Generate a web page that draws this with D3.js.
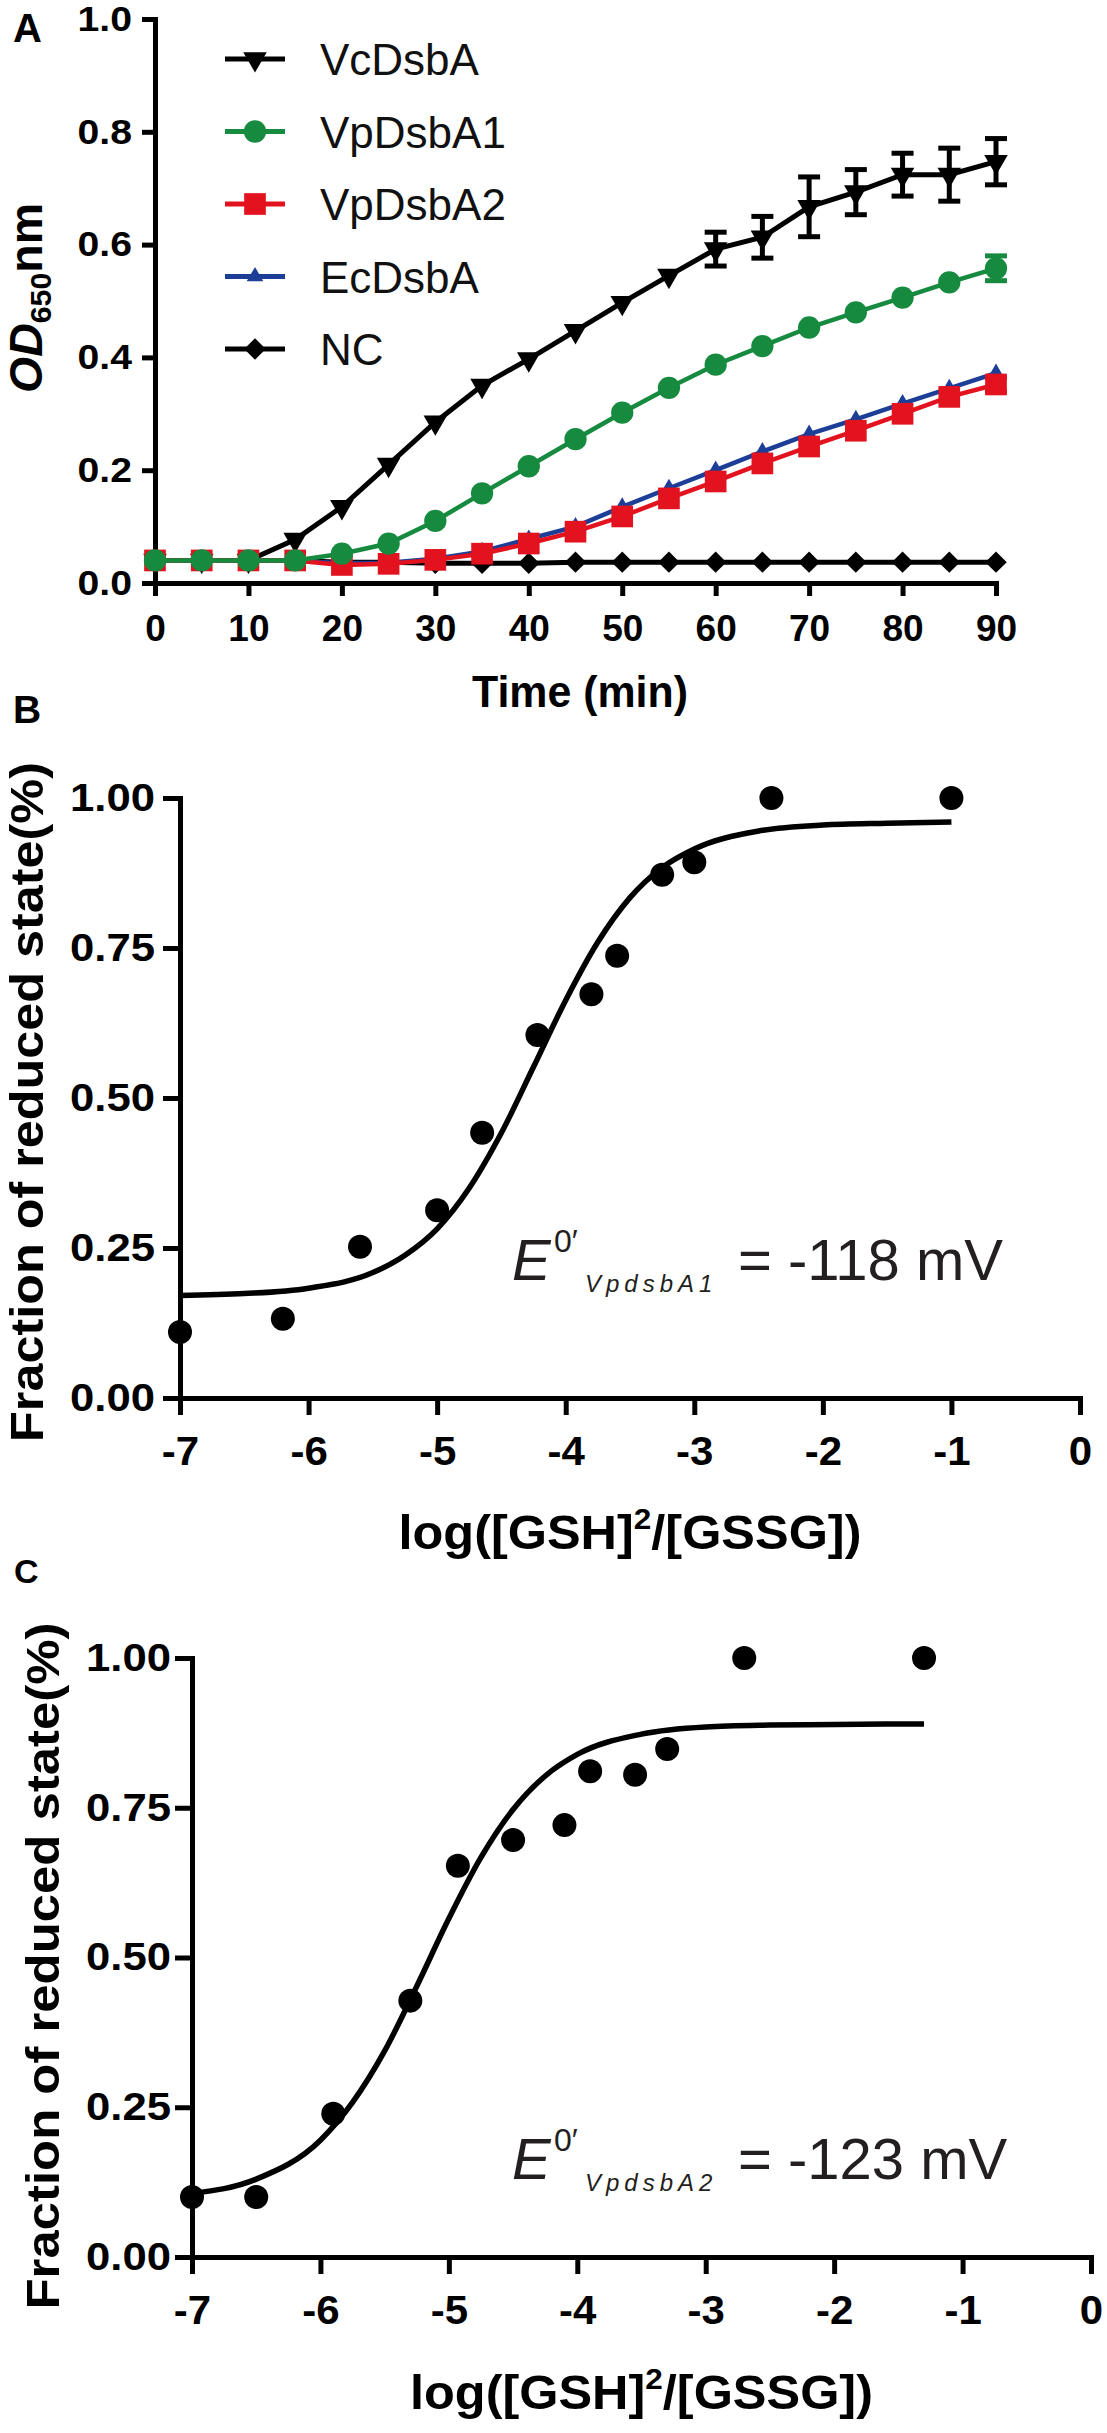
<!DOCTYPE html>
<html><head><meta charset="utf-8">
<script src="https://cdn.jsdelivr.net/npm/d3@7"></script>
<style>html,body{margin:0;padding:0;background:#fff}svg{display:block}</style>
</head><body>
<svg id="c" width="1107" height="2433"></svg>
<script>
// ---------- Panel A data ----------
const timePoints = [0,5,10,15,20,25,30,35,40,45,50,55,60,65,70,75,80,85,90];
const vcDsbA    = [0.04,0.04,0.04,0.077,0.135,0.21,0.285,0.35,0.397,0.447,0.497,0.545,0.592,0.613,0.667,0.693,0.724,0.724,0.747];
const vcDsbAErr = [0,0,0,0,0,0,0,0,0,0,0,0,0.03,0.037,0.053,0.04,0.038,0.047,0.041];
const vpDsbA1    = [0.04,0.04,0.04,0.04,0.052,0.07,0.11,0.159,0.207,0.255,0.302,0.346,0.387,0.42,0.453,0.48,0.506,0.533,0.558];
const vpDsbA1Err = [0,0,0,0,0,0,0,0,0,0,0,0,0,0,0,0,0,0,0.022];
const vpDsbA2    = [0.04,0.04,0.04,0.04,0.032,0.034,0.041,0.052,0.07,0.091,0.118,0.15,0.18,0.212,0.242,0.27,0.30,0.33,0.352];
const vpDsbA2Err = [0,0,0,0,0,0,0,0,0,0,0,0,0,0,0,0,0,0,0.012];
const ecDsbA    = [0.04,0.04,0.04,0.04,0.035,0.036,0.043,0.056,0.078,0.10,0.135,0.168,0.20,0.233,0.264,0.29,0.318,0.345,0.372];
const ncValues  = [0.04,0.04,0.04,0.04,0.037,0.037,0.035,0.035,0.035,0.037,0.037,0.037,0.037,0.037,0.037,0.037,0.037,0.037,0.037];
const seriesNames = ["VcDsbA","VpDsbA1","VpDsbA2","EcDsbA","NC"];
const yTicksA = [0,0.2,0.4,0.6,0.8,1.0];
const xTicksA = [0,10,20,30,40,50,60,70,80,90];

// ---------- Panel B data ----------
const logRatioB = [-7,-6.2,-5.6,-5.0,-4.65,-4.22,-3.8,-3.6,-3.25,-3.0,-2.4,-1.0];
const fracB     = [0.11,0.132,0.252,0.313,0.442,0.605,0.673,0.737,0.872,0.893,1.0,1.0];
const fitXB = [-7,-6.5,-6,-5.5,-5.25,-5,-4.75,-4.5,-4.25,-4,-3.75,-3.5,-3.25,-3,-2.5,-2,-1.5,-1];
const fitYB = [0.171,0.174,0.183,0.209,0.238,0.282,0.35,0.442,0.552,0.663,0.76,0.834,0.884,0.915,0.945,0.955,0.958,0.96];

// ---------- Panel C data ----------
const logRatioC = [-7,-6.5,-5.9,-5.3,-4.93,-4.5,-4.1,-3.9,-3.55,-3.3,-2.7,-1.3];
const fracC     = [0.10,0.10,0.239,0.428,0.653,0.696,0.721,0.811,0.805,0.848,1.0,1.0];
const fitXC = [-7,-6.5,-6,-5.75,-5.5,-5.25,-5,-4.75,-4.5,-4.25,-4,-3.5,-3,-2.5,-2,-1.3];
const fitYC = [0.106,0.130,0.195,0.258,0.344,0.452,0.565,0.667,0.747,0.803,0.839,0.873,0.885,0.888,0.889,0.89];

const yTicksBC = [0,0.25,0.5,0.75,1.0];
const xTicksBC = [-7,-6,-5,-4,-3,-2,-1,0];

// ---------- drawing ----------
const FONT = '"Liberation Sans", Arial, Helvetica, sans-serif';
const svg = d3.select("#c");

function styleAxis(g, fs, sx){
  g.attr("font-family", FONT).attr("font-size", fs).attr("font-weight", "bold");
  g.select(".domain").attr("stroke","#000").attr("stroke-width",5).attr("stroke-linecap","square");
  g.selectAll(".tick line").attr("stroke","#000").attr("stroke-width",5);
  g.selectAll(".tick text").attr("fill","#000").attr("transform", function(){
    const x = +(this.getAttribute("x") || 0);
    return `translate(${x},0) scale(${sx},1) translate(${-x},0)`;
  });
}
function fittedText(x, y, rot, target, build){
  const t = svg.append("text").attr("font-family", FONT).attr("fill", "#000");
  build(t);
  const w = t.node().getComputedTextLength();
  t.attr("text-anchor","middle").attr("transform", `translate(${x},${y}) rotate(${rot}) scale(${target / w},1)`);
  return t;
}
function panelLabel(txt, x, y, fs){
  svg.append("text").attr("x",x).attr("y",y).attr("font-family",FONT).attr("font-weight","bold")
    .attr("font-size",fs).attr("fill","#000").text(txt);
}

// ===== Panel A =====
const xA = d3.scaleLinear().domain([0,90]).range([155,996]);
const yA = d3.scaleLinear().domain([0,1]).range([583,19]);

svg.append("g").attr("transform","translate(155,0)")
  .call(d3.axisLeft(yA).tickValues(yTicksA).tickFormat(d3.format(".1f")).tickSize(13).tickSizeOuter(0).tickPadding(10))
  .call(g => styleAxis(g, 35, 1.12));
svg.append("g").attr("transform","translate(0,583)")
  .call(d3.axisBottom(xA).tickValues(xTicksA).tickFormat(d => String(d)).tickSize(13).tickSizeOuter(0).tickPadding(19))
  .call(g => styleAxis(g, 37, 1.0));

const triDown = d3.symbol().type(d3.symbolTriangle).size(240)();
const triUp   = d3.symbol().type(d3.symbolTriangle).size(120)();
const circ    = d3.symbol().type(d3.symbolCircle).size(390)();
const sq      = d3.symbol().type(d3.symbolSquare).size(470)();
const diam    = d3.symbol().type(d3.symbolSquare).size(230)();

const seriesA = [
  {name:seriesNames[4], vals:ncValues, err:null, color:"#000", path:diam, rot:45, lw:5},
  {name:seriesNames[0], vals:vcDsbA, err:vcDsbAErr, color:"#000", path:triDown, rot:180, lw:5},
  {name:seriesNames[3], vals:ecDsbA, err:null, color:"#1d3e97", path:triUp, rot:0, lw:4.5},
  {name:seriesNames[2], vals:vpDsbA2, err:vpDsbA2Err, color:"#e3121f", path:sq, rot:0, lw:4.5},
  {name:seriesNames[1], vals:vpDsbA1, err:vpDsbA1Err, color:"#168a3f", path:circ, rot:0, lw:4.5}
];
const lineA = d3.line().x((d,i) => xA(timePoints[i])).y(d => yA(d));

seriesA.forEach(s => {
  const g = svg.append("g");
  g.append("path").attr("d", lineA(s.vals)).attr("fill","none").attr("stroke",s.color).attr("stroke-width",s.lw);
  if (s.err) {
    s.vals.forEach((v,i) => {
      const e = s.err[i]; if (!e) return;
      const x = xA(timePoints[i]);
      g.append("line").attr("x1",x).attr("x2",x).attr("y1",yA(v-e)).attr("y2",yA(v+e)).attr("stroke",s.color).attr("stroke-width",5);
      [v-e, v+e].forEach(c => g.append("line").attr("x1",x-11).attr("x2",x+11).attr("y1",yA(c)).attr("y2",yA(c)).attr("stroke",s.color).attr("stroke-width",5));
    });
  }
  g.selectAll("path.m").data(s.vals).join("path").attr("class","m")
    .attr("d", s.path).attr("fill", s.color)
    .attr("transform",(d,i) => `translate(${xA(timePoints[i])},${yA(d)}) rotate(${s.rot})`);
});

// legend
const legendOrder = [
  {name:seriesNames[0], color:"#000", path:triDown, rot:180},
  {name:seriesNames[1], color:"#168a3f", path:circ, rot:0},
  {name:seriesNames[2], color:"#e3121f", path:sq, rot:0},
  {name:seriesNames[3], color:"#1d3e97", path:triUp, rot:0},
  {name:seriesNames[4], color:"#000", path:diam, rot:45}
];
const legY = d3.scalePoint().domain(seriesNames).range([59,349]);
legendOrder.forEach(l => {
  const y = legY(l.name);
  svg.append("line").attr("x1",225).attr("x2",285).attr("y1",y).attr("y2",y).attr("stroke",l.color).attr("stroke-width",5);
  svg.append("path").attr("d",l.path).attr("fill",l.color).attr("transform",`translate(255,${y}) rotate(${l.rot})`);
  svg.append("text").attr("x",320).attr("y",y+16).attr("font-family",FONT).attr("font-size",44).attr("fill","#111").text(l.name);
});

// titles A
fittedText(580, 707, 0, 216, t => t.attr("font-size",44).attr("font-weight","bold").text("Time (min)"));
fittedText(42, 298, -90, 190, t => {
  t.attr("font-size",46).attr("font-weight","bold");
  t.append("tspan").attr("font-style","italic").text("OD");
  t.append("tspan").attr("font-size",30).attr("dy",9).text("650");
  t.append("tspan").attr("dy",-9).text("nm");
});
panelLabel("A", 13, 42, 40);

// ===== Panel B & C =====
function fractionPanel(opt){
  const x = d3.scaleLinear().domain([-7,0]).range([opt.x0, opt.x1]);
  const y = d3.scaleLinear().domain([0,1]).range([opt.y0, opt.y1]);
  svg.append("g").attr("transform",`translate(${opt.x0},0)`)
    .call(d3.axisLeft(y).tickValues(yTicksBC).tickFormat(d3.format(".2f")).tickSize(17).tickSizeOuter(0).tickPadding(opt.yPad))
    .call(g => styleAxis(g, 39, 1.12));
  svg.append("g").attr("transform",`translate(0,${opt.y0})`)
    .call(d3.axisBottom(x).tickValues(xTicksBC).tickFormat(d => String(d)).tickSize(17).tickSizeOuter(0).tickPadding(22))
    .call(g => styleAxis(g, 40, 1.05));
  const line = d3.line().x((d,i) => x(opt.fitX[i])).y(d => y(d)).curve(d3.curveMonotoneX);
  svg.append("path").attr("d", line(opt.fitY)).attr("fill","none").attr("stroke","#000").attr("stroke-width",5.5);
  svg.append("g").selectAll("circle").data(opt.fy).join("circle")
    .attr("cx",(d,i) => x(opt.fx[i])).attr("cy", d => y(d)).attr("r",12).attr("fill","#000");

  // axis titles
  fittedText((opt.x0+opt.x1)/2, opt.xTitleY, 0, 463, t => {
    t.attr("font-size",48).attr("font-weight","bold");
    t.append("tspan").text("log([GSH]");
    t.append("tspan").attr("font-size",30).attr("dy",-20).text("2");
    t.append("tspan").attr("dy",20).text("/[GSSG])");
  });
  fittedText(opt.yTitleX, opt.yTitleC, -90, opt.yTitleLen, t => t.attr("font-size",46).attr("font-weight","bold").text("Fraction of reduced state(%)"));

  // annotation
  const col = "#231f20";
  svg.append("text").attr("x",512).attr("y",opt.annY).attr("font-family",FONT).attr("font-style","italic").attr("font-size",58).attr("fill",col).text("E");
  svg.append("text").attr("x",554).attr("y",opt.annY-28).attr("font-family",FONT).attr("font-size",32).attr("fill",col).text("0\u2032");
  svg.append("text").attr("x",585).attr("y",opt.annY+12).attr("font-family",FONT).attr("font-style","italic").attr("font-size",24).attr("letter-spacing",5).attr("fill",col).text(opt.sub);
  svg.append("text").attr("x",738).attr("y",opt.annY).attr("font-family",FONT).attr("font-size",58).attr("fill",col).text(opt.value);
}

fractionPanel({x0:180, x1:1080, y0:1398, y1:798, yPad:8, fx:logRatioB, fy:fracB, fitX:fitXB, fitY:fitYB,
  xTitleY:1549, yTitleX:43, yTitleC:1102, yTitleLen:680, annY:1280, sub:"VpdsbA1", value:"= -118 mV"});
panelLabel("B", 13, 723, 39);

fractionPanel({x0:192, x1:1091, y0:2257, y1:1658, yPad:4, fx:logRatioC, fy:fracC, fitX:fitXC, fitY:fitYC,
  xTitleY:2409, yTitleX:59, yTitleC:1966, yTitleLen:687, annY:2179, sub:"VpdsbA2", value:"= -123 mV"});
panelLabel("C", 14, 1583, 34);
</script>
</body></html>
